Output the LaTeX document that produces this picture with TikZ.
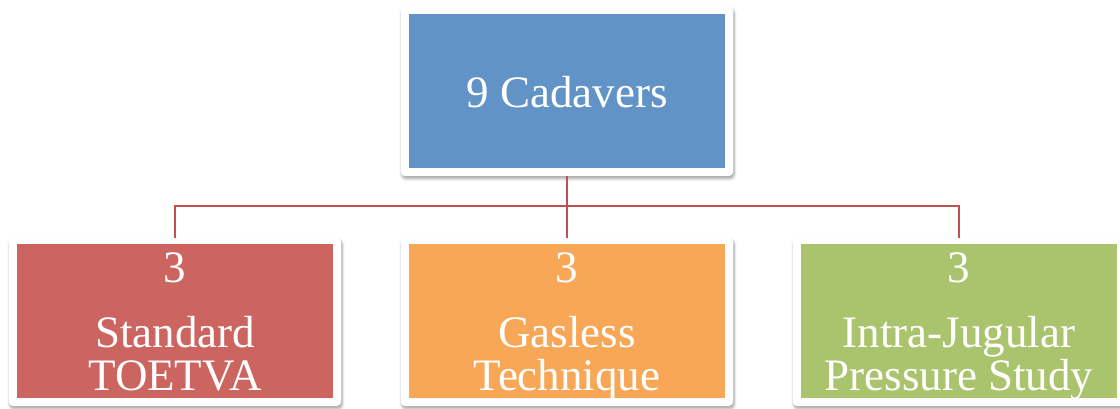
\documentclass[tikz,border=0pt]{standalone}
\usepackage{fontspec}
\setmainfont{Liberation Serif}
\usetikzlibrary{shadows.blur}

\definecolor{boxblue}{RGB}{97,147,199}
\definecolor{boxred}{RGB}{204,101,96}
\definecolor{boxorange}{RGB}{248,167,87}
\definecolor{boxgreen}{RGB}{170,196,110}
\definecolor{linkred}{RGB}{192,80,77}

\tikzset{
  frame/.style={fill=white, rounded corners=4pt, inner sep=0pt,
    minimum width=332pt, minimum height=168pt,
    blur shadow={shadow xshift=1pt, shadow yshift=-2.5pt,
      shadow blur radius=3pt, shadow opacity=40}},
  panel/.style={inner sep=0pt, minimum width=316pt, minimum height=154pt},
  label/.style={text=white, inner sep=0pt, align=center,
    font=\fontsize{45}{43}\selectfont},
  link/.style={draw=linkred, line width=1.6pt}
}

\begin{document}
\begin{tikzpicture}[x=1pt, y=-1pt]
\useasboundingbox (0,0) rectangle (1120,408);

% top box
\node[frame, minimum height=169pt] (topframe) at (567,91.5) {};
\node[panel, fill=boxblue] (top) at (567,91) {};
\node[label, anchor=base] (toptext) at (567,107) {9 Cadavers};

% three bottom boxes
\node[frame] (lframe) at (175,322) {};
\node[panel, fill=boxred] (left) at (175,321) {};
\node[frame] (mframe) at (567,322) {};
\node[panel, fill=boxorange] (mid) at (567,321) {};
\node[frame] (rframe) at (959,322) {};
\node[panel, fill=boxgreen] (right) at (959,321) {};

% counts
\node[label, anchor=base] (lnum) at (175,282) {3};
\node[label, anchor=base] (mnum) at (567,282) {3};
\node[label, anchor=base] (rnum) at (959,282) {3};

% group names (base anchor sits on the last line)
\node[label, anchor=base] (ltext) at (175,390) {Standard\\TOETVA};
\node[label, anchor=base] (mtext) at (567,390) {Gasless\\Technique};
\node[label, anchor=base] (rtext) at (959,390) {Intra-Jugular\\Pressure Study};

% connectors
\coordinate (bus) at (567,206);
\draw[link] (topframe.south) -- (bus);
\draw[link] (lframe.north) |- (bus) -| (rframe.north);
\draw[link] (bus) -- (mframe.north);
\end{tikzpicture}
\end{document}
